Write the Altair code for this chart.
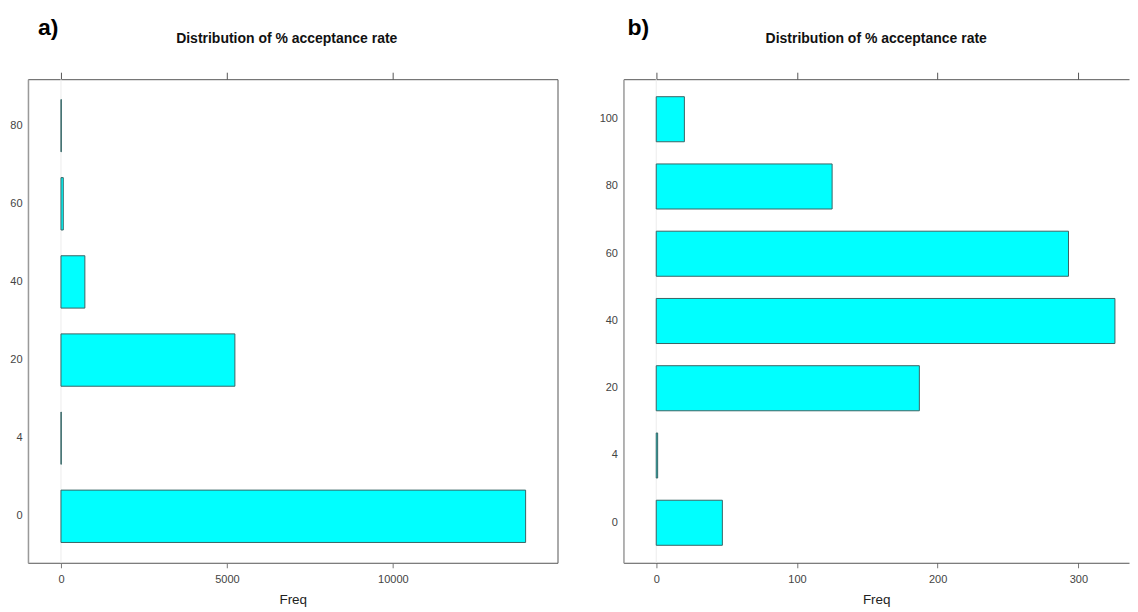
import altair as alt
import pandas as pd

# Panel a data
cats_a = ["80", "60", "40", "20", "4", "0"]
freq_a = [10, 70, 720, 5240, 8, 14000]

# Panel b data
cats_b = ["100", "80", "60", "40", "20", "4", "0"]
freq_b = [20, 125, 293, 326, 187, 1, 47]

title_text = "Distribution of % acceptance rate"
FONT = "Liberation Sans"


def panel(cats, freqs, domain, ticks, label, w, h, title_x, label_x, open_right):
    df = pd.DataFrame({"rate": cats, "Freq": freqs})
    xscale = alt.Scale(domain=domain, nice=False, zero=False)
    yscale = alt.Scale(domain=cats, paddingInner=0.33, paddingOuter=0.26)

    zero = alt.Chart(pd.DataFrame({"z": [0]})).mark_rule(
        color="#ececec", strokeWidth=1
    ).encode(x=alt.X("z:Q", scale=xscale, axis=None))

    bars = alt.Chart(df).mark_bar(
        color="#00FFFF", stroke="#3a6464", strokeWidth=1
    ).encode(
        x=alt.X(
            "Freq:Q",
            scale=xscale,
            axis=alt.Axis(
                orient="bottom",
                values=ticks, format="d", grid=False, tickSize=5, tickColor="#777",
                domain=open_right, domainColor="#555", domainWidth=1,
                labelColor="#444", labelFontSize=11, labelFont=FONT,
                labelPadding=6, title="Freq", titleFont=FONT, titleFontSize=13.5,
                titleFontWeight="normal", titleColor="#222", titlePadding=8,
            ),
        ),
        y=alt.Y(
            "rate:N",
            scale=yscale,
            sort=cats,
            axis=alt.Axis(
                title=None, ticks=False, domainColor="#9a9a9a", domainWidth=1.5,
                labelColor="#444", labelFontSize=11, labelFont=FONT, labelPadding=6,
                grid=False,
            ),
        ),
    )

    top_ticks = alt.Chart(pd.DataFrame({"t": ticks})).mark_rule(
        opacity=0
    ).encode(
        x=alt.X(
            "t:Q",
            scale=xscale,
            axis=alt.Axis(
                orient="top", values=ticks, labels=False, domain=open_right,
                domainColor="#555", domainWidth=1, tickSize=7,
                tickColor="#555", title=None, grid=False,
            ),
        )
    )

    texts = pd.DataFrame({"l": [label], "t": [title_text]})
    lab = alt.Chart(texts).mark_text(
        align="left", baseline="middle", fontSize=23, fontWeight="bold",
        font=FONT, color="#000"
    ).encode(text="l:N", x=alt.value(label_x), y=alt.value(-51))

    ttl = alt.Chart(texts).mark_text(
        align="center", baseline="middle", fontSize=14, fontWeight="bold",
        font=FONT, color="#111"
    ).encode(text="t:N", x=alt.value(title_x), y=alt.value(-40))

    view = {"stroke": "transparent"} if open_right else {"stroke": "#555", "strokeWidth": 1}

    return (
        alt.layer(zero, bars, top_ticks, lab, ttl)
        .resolve_scale(x="shared")
        .resolve_axis(x="independent")
        .properties(width=w, height=h, view=view)
    )


pa = panel(cats_a, freq_a, [-994, 14961], [0, 5000, 10000], "a)", 530, 484, 259, 10, False)
pb = panel(cats_b, freq_b, [-23.3, 336], [0, 100, 200, 300], "b)", 506, 484, 253, 4, True)

chart = alt.hconcat(pa, pb, spacing=40).properties(
    padding={"left": 1, "top": 8, "right": 0, "bottom": 0}
).configure(background="white")

chart.save("out.html", embed_options={"renderer": "svg", "actions": False})
